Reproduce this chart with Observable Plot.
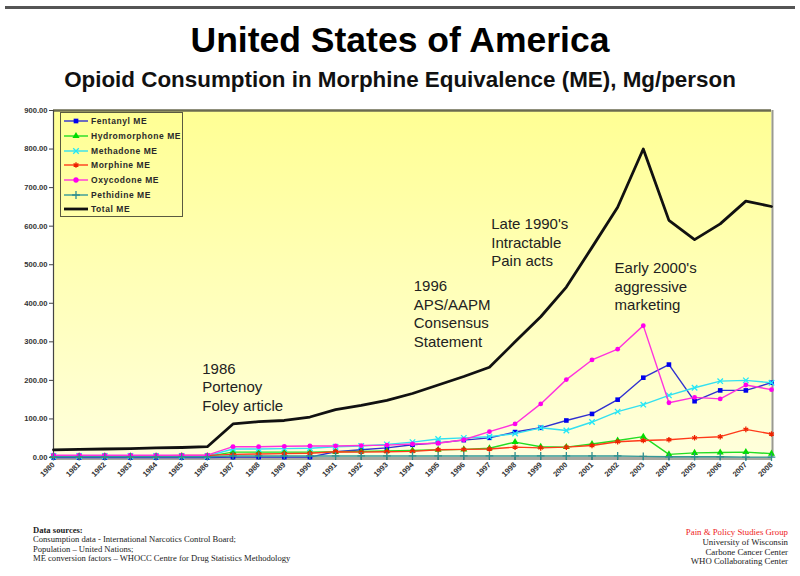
<!DOCTYPE html>
<html><head><meta charset="utf-8">
<script src="https://cdn.jsdelivr.net/npm/d3@7"></script>
<script src="https://cdn.jsdelivr.net/npm/@observablehq/plot@0.6"></script>
<style>
body{margin:0;width:800px;height:576px;position:relative;background:#fff;font-family:"Liberation Sans",Arial,sans-serif;overflow:hidden}
#topline{position:absolute;left:5px;top:6px;width:790px;height:3px;background:#555}
#title{position:absolute;left:0;top:20px;width:800px;text-align:center;font-weight:bold;font-size:35.5px;color:#000;line-height:40px}
#subtitle{position:absolute;left:0;top:67px;width:800px;text-align:center;font-weight:bold;font-size:22.4px;color:#111;line-height:26px}
#chart{position:absolute;left:0;top:100px}
#legend{position:absolute;left:60px;top:112px;width:123px;height:105px;border:1.5px solid #5a5a40;box-sizing:border-box;padding-top:1px}
.lg{display:flex;align-items:center;height:14.7px;font-size:8.5px;letter-spacing:0.55px;font-weight:bold;color:#2a2a2a;white-space:nowrap}
.lg svg{margin-left:2px;margin-right:2px}
#srcL{position:absolute;left:33px;top:526px;font-family:"Liberation Serif",serif;font-size:8.6px;line-height:9.3px;color:#222}
#srcR{position:absolute;right:12px;top:528px;text-align:right;font-family:"Liberation Serif",serif;font-size:8.8px;line-height:9.8px;color:#222}
</style></head>
<body>
<div id="topline"></div>
<div id="title">United States of America</div>
<div id="subtitle">Opioid Consumption in Morphine Equivalence (ME), Mg/person</div>
<div id="chart"></div>
<div id="legend"></div>
<div id="srcL"><b>Data sources:</b><br>Consumption data - International Narcotics Control Board;<br>Population – United Nations;<br>ME conversion factors – WHOCC Centre for Drug Statistics Methodology</div>
<div id="srcR"><span style="color:#ee2222">Pain &amp; Policy Studies Group</span><br>University of Wisconsin<br>Carbone Cancer Center<br>WHO Collaborating Center</div>
<script>
const years = d3.range(1980, 2009);
const fentanyl      = [0,0,0,0,0,0,0,1,1,1,1,15,20,25,33,38,45,51,66,77,96,113,150,207,241,146,174,174,194];
const hydromorphone = [3,3,3,3,3,3,3,14,14,14,14,15,16,17,18,20,21,24,40,28,27,35,44,54,8,12,13,14,10];
const methadone     = [4,4,4,4,4,4,4,22,22,23,24,28,30,34,40,48,51,54,62,77,70,92,119,137,161,181,198,200,194];
const morphine      = [4,4,4,4,4,5,5,8,9,10,11,15,14,15,16,20,21,22,27,25,27,31,41,44,46,51,54,73,61];
const oxycodone     = [6,6,6,6,6,6,6,28,28,29,30,30,31,32,35,37,46,67,87,139,202,253,281,342,142,156,152,188,176];
const pethidine     = [2,2,2,2,2,2,2,4,4,4,4,4,4,4,4,4,4,4,4,4,4,4,4,3,2,2,2,1,1];
const total         = [20,21,22,23,25,26,28,87,93,96,105,124,135,148,166,188,210,234,300,365,442,545,649,800,615,565,606,665,651];
const yTicks = [0,100,200,300,400,500,600,700,800,900];

const seriesNames = ["Fentanyl ME","Hydromorphone ME","Methadone ME","Morphine ME","Oxycodone ME","Pethidine ME"];
const seriesValues = [fentanyl, hydromorphone, methadone, morphine, oxycodone, pethidine];
const seriesLine   = ["#3030d0","#22dd22","#33e0f0","#ff3a1a","#ff33dd","#339999"];
const seriesMark   = ["#0000ee","#00dd00","#22e8f8","#ee2200","#ff00ee","#2f8f8f"];
const seriesSymbol = ["square","triangle","times","asterisk","circle","plus"];

const annoYear  = [1985.8, 1994.05, 1997.07, 2001.88];
const annoLevel = [252, 466, 627, 513];
const annoText  = ["1986\nPortenoy\nFoley article","1996\nAPS/AAPM\nConsensus\nStatement","Late 1990's\nIntractable\nPain acts","Early 2000's\naggressive\nmarketing"];

const rows = [];
seriesNames.forEach((s, i) => years.forEach((yr, j) => rows.push({series: s, year: yr, value: seriesValues[i][j]})));
const totalRows = years.map((yr, j) => ({year: yr, value: total[j]}));
const annos = annoText.map((t, i) => ({year: annoYear[i], value: annoLevel[i], text: t}));

const strokeSymbols = new Set(["times","asterisk","plus"]);
const seriesMarks = [];
seriesNames.forEach((s, i) => {
  const data = rows.filter(d => d.series === s);
  seriesMarks.push(Plot.line(data, {x: "year", y: "value", stroke: seriesLine[i], strokeWidth: 1.4}));
  const sym = seriesSymbol[i];
  const filled = !strokeSymbols.has(sym);
  seriesMarks.push(Plot.dot(data, {x: "year", y: "value", symbol: sym, r: sym === "circle" ? 2.4 : 2.6,
    fill: filled ? seriesMark[i] : "none", stroke: filled ? "none" : seriesMark[i], strokeWidth: 1.3}));
});

const plot = Plot.plot({
  width: 800, height: 400,
  marginTop: 10, marginBottom: 43, marginLeft: 53, marginRight: 29,
  style: {background: "transparent", fontFamily: "Liberation Sans, Arial, sans-serif"},
  x: {domain: [1980, 2008]},
  y: {domain: [0, 900]},
  marks: [
    Plot.frame({fill: "url(#bgGrad)", stroke: null}),
    Plot.ruleY([0], {stroke: "#a8a8a0", strokeWidth: 3, dy: 1}),
    Plot.ruleY([900], {stroke: "#6b6b50", strokeWidth: 2.5}),
    Plot.ruleX([2008], {stroke: "#9a9a90", strokeWidth: 2, dx: 1}),
    Plot.ruleX([1980], {stroke: "#444", strokeWidth: 1.2}),
    Plot.axisY({ticks: yTicks, tickFormat: d3.format(".2f"), tickSize: 4, tickPadding: 2, fontSize: 7.6, fontWeight: "bold", label: null, stroke: "#444", color: "#333"}),
    Plot.axisX({ticks: years, tickFormat: d => String(d), tickRotate: -45, tickSize: 3, tickPadding: 3, fontSize: 7.6, fontWeight: "bold", label: null, color: "#333"}),
    ...seriesMarks,
    Plot.line(totalRows, {x: "year", y: "value", stroke: "#111", strokeWidth: 2.8}),
    Plot.text(annos, {x: "year", y: "value", text: "text", textAnchor: "start", lineAnchor: "top", lineHeight: 1.24, fontSize: 15, fill: "#222"})
  ]
});
const svg = d3.select(plot);
const grad = svg.insert("defs", ":first-child").append("linearGradient").attr("id", "bgGrad").attr("x1", 0).attr("y1", 0).attr("x2", 0).attr("y2", 1);
grad.append("stop").attr("offset", "0%").attr("stop-color", "#ffff94");
grad.append("stop").attr("offset", "100%").attr("stop-color", "#ffffdc");
document.getElementById("chart").appendChild(plot);

// legend
const legend = d3.select("#legend");
const symMap = {square: d3.symbolSquare, triangle: d3.symbolTriangle, times: d3.symbolTimes, asterisk: d3.symbolAsterisk, circle: d3.symbolCircle, plus: d3.symbolPlus};
seriesNames.forEach((s, i) => {
  const row = legend.append("div").attr("class", "lg");
  const sv = row.append("svg").attr("width", 26).attr("height", 10);
  sv.append("line").attr("x1", 1).attr("x2", 25).attr("y1", 5).attr("y2", 5).attr("stroke", seriesLine[i]).attr("stroke-width", 1.4);
  const filled = !strokeSymbols.has(seriesSymbol[i]);
  sv.append("path").attr("transform", "translate(13,5)").attr("d", d3.symbol(symMap[seriesSymbol[i]], 22)())
    .attr("fill", filled ? seriesMark[i] : "none").attr("stroke", filled ? "none" : seriesMark[i]).attr("stroke-width", 1.3);
  row.append("span").text(s);
});
const trow = legend.append("div").attr("class", "lg");
const tsv = trow.append("svg").attr("width", 26).attr("height", 10);
tsv.append("line").attr("x1", 1).attr("x2", 25).attr("y1", 5).attr("y2", 5).attr("stroke", "#111").attr("stroke-width", 2.8);
trow.append("span").text("Total ME");
</script>
</body></html>
